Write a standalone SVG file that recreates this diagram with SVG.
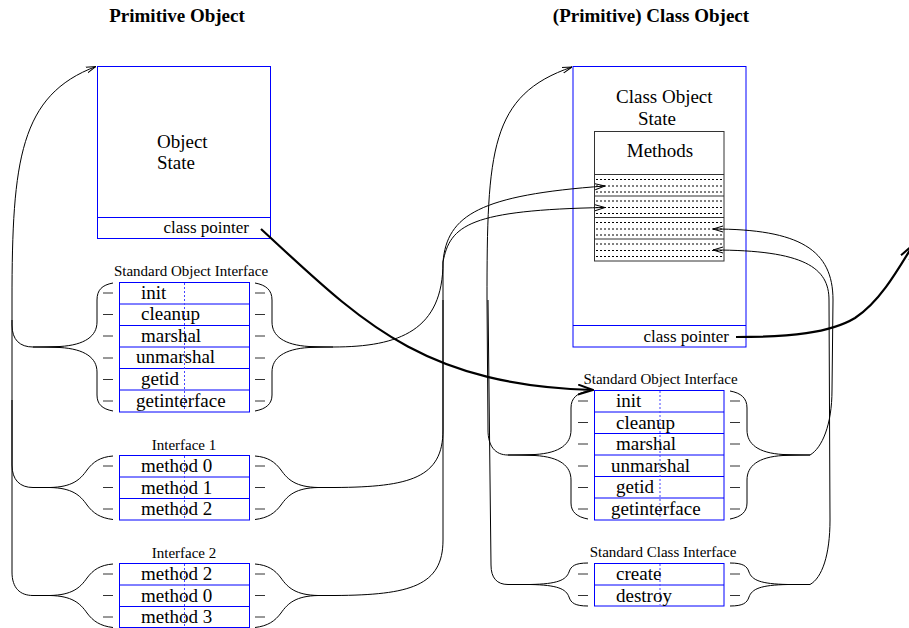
<svg xmlns="http://www.w3.org/2000/svg" width="909" height="628" viewBox="0 0 909 628">
<style>
text{font-family:"Liberation Serif","Times New Roman",serif;fill:#000}
.t{font-size:19px}
.s{font-size:15px}
.c{font-size:17px}
.h{font-size:19px;font-weight:bold;text-anchor:middle}
.m{text-anchor:middle}
.tbl{fill:none;stroke:#0000ff;stroke-width:1}
.vd{stroke:#4444ff;stroke-width:1;stroke-dasharray:2,2}
.ln{fill:none;stroke:#000;stroke-width:1}
.br{fill:none;stroke:#000;stroke-width:1}
.thick{fill:none;stroke:#000;stroke-width:2.2}
.ds{stroke:#333;stroke-width:1}
.dt{stroke:#000;stroke-width:1;stroke-dasharray:2,2}
</style>
<defs>
<marker id="a" viewBox="0 0 10 8" refX="10" refY="4" markerWidth="10" markerHeight="8" markerUnits="userSpaceOnUse" orient="auto"><path d="M0,1 L10,4 L0,7" fill="none" stroke="#000" stroke-width="1"/></marker>
<marker id="A" viewBox="0 0 16 12" refX="15" refY="6" markerWidth="16" markerHeight="12" markerUnits="userSpaceOnUse" orient="auto"><path d="M0,1 L15,6 L0,11" fill="none" stroke="#000" stroke-width="2"/></marker>
</defs>

<text class="h" x="177" y="22">Primitive Object</text>
<text class="h" x="651" y="22">(Primitive) Class Object</text>

<g id="object-state">
<rect class="tbl" x="97.5" y="66.5" width="173" height="172"/>
<line class="tbl" x1="97.5" y1="217.5" x2="270.5" y2="217.5"/>
<text class="t" x="157" y="148">Object</text>
<text class="t" x="157" y="169">State</text>
<text class="c" x="249" y="233" text-anchor="end">class pointer</text>
</g>

<g id="std-object-interface-left">
<text class="s m" x="191" y="276">Standard Object Interface</text>
<rect class="tbl" x="119.5" y="282.5" width="130" height="129.5"/>
<line class="tbl" x1="119.5" y1="304" x2="249.5" y2="304"/>
<line class="tbl" x1="119.5" y1="325.5" x2="249.5" y2="325.5"/>
<line class="tbl" x1="119.5" y1="347" x2="249.5" y2="347"/>
<line class="tbl" x1="119.5" y1="368.5" x2="249.5" y2="368.5"/>
<line class="tbl" x1="119.5" y1="390" x2="249.5" y2="390"/>
<line class="vd" x1="184.5" y1="283" x2="184.5" y2="411"/>
<text class="t" x="141" y="298.5">init</text>
<text class="t" x="141" y="320">cleanup</text>
<text class="t" x="141" y="341.5">marshal</text>
<text class="t" x="136" y="363">unmarshal</text>
<text class="t" x="141" y="384.5">getid</text>
<text class="t" x="136" y="406.5">getinterface</text>
<g class="ds">
<line x1="103" y1="293" x2="113" y2="293"/><line x1="103" y1="314.5" x2="113" y2="314.5"/><line x1="103" y1="336" x2="113" y2="336"/><line x1="103" y1="358" x2="113" y2="358"/><line x1="103" y1="379.5" x2="113" y2="379.5"/><line x1="103" y1="401" x2="113" y2="401"/>
<line x1="255" y1="293" x2="265" y2="293"/><line x1="255" y1="314.5" x2="265" y2="314.5"/><line x1="255" y1="336" x2="265" y2="336"/><line x1="255" y1="358" x2="265" y2="358"/><line x1="255" y1="379.5" x2="265" y2="379.5"/><line x1="255" y1="401" x2="265" y2="401"/>
</g>
<path class="br" d="M113,283 C102,285 97,290 97,300 L97,322 C97,336 85,345 60,346.5 L33,347 M33,347 L60,347.5 C85,349 97,358 97,372 L97,395 C97,404 102,409 113,411"/>
<path class="br" d="M255,283 C266,285 272,290 272,300 L272,322 C272,336 284,345 309,346.5 L333,347 M333,347 L309,347.5 C284,349 272,358 272,372 L272,395 C272,404 266,409 255,411"/>
</g>

<g id="interface-1">
<text class="s m" x="184" y="450">Interface 1</text>
<rect class="tbl" x="119.5" y="455.5" width="130" height="64.5"/>
<line class="tbl" x1="119.5" y1="477" x2="249.5" y2="477"/>
<line class="tbl" x1="119.5" y1="498.5" x2="249.5" y2="498.5"/>
<line class="vd" x1="184.5" y1="456" x2="184.5" y2="519"/>
<text class="t" x="141" y="472">method 0</text>
<text class="t" x="141" y="493.5">method 1</text>
<text class="t" x="141" y="515">method 2</text>
<g class="ds">
<line x1="103" y1="466" x2="113" y2="466"/><line x1="103" y1="487.5" x2="113" y2="487.5"/><line x1="103" y1="509" x2="113" y2="509"/>
<line x1="255" y1="466" x2="265" y2="466"/><line x1="255" y1="487.5" x2="265" y2="487.5"/><line x1="255" y1="509" x2="265" y2="509"/>
</g>
<path class="br" d="M113,456 C100,457 93,462 87,470 C80,480 72,487 50,487.5 L33,487.5 M33,487.5 L50,487.5 C72,488 80,495 87,505 C93,513 100,518 113,519.5"/>
<path class="br" d="M255,456 C268,457 275,462 281,470 C288,480 296,487 318,487.5 L335,487.5 M335,487.5 L318,487.5 C296,488 288,495 281,505 C275,513 268,518 255,519.5"/>
</g>

<g id="interface-2">
<text class="s m" x="184" y="558">Interface 2</text>
<rect class="tbl" x="119.5" y="563.5" width="130" height="64"/>
<line class="tbl" x1="119.5" y1="585" x2="249.5" y2="585"/>
<line class="tbl" x1="119.5" y1="606.5" x2="249.5" y2="606.5"/>
<line class="vd" x1="184.5" y1="564" x2="184.5" y2="627"/>
<text class="t" x="141" y="580">method 2</text>
<text class="t" x="141" y="601.5">method 0</text>
<text class="t" x="141" y="623">method 3</text>
<g class="ds">
<line x1="103" y1="574" x2="113" y2="574"/><line x1="103" y1="595.5" x2="113" y2="595.5"/><line x1="103" y1="617" x2="113" y2="617"/>
<line x1="255" y1="574" x2="265" y2="574"/><line x1="255" y1="595.5" x2="265" y2="595.5"/><line x1="255" y1="617" x2="265" y2="617"/>
</g>
<path class="br" d="M113,564 C100,565 93,570 87,578 C80,588 72,595 50,595.5 L33,595.5 M33,595.5 L50,595.5 C72,596 80,603 87,613 C93,621 100,626 113,627.5"/>
<path class="br" d="M255,564 C268,565 275,570 281,578 C288,588 296,595 318,595.5 L335,595.5 M335,595.5 L318,595.5 C296,596 288,603 281,613 C275,621 268,626 255,627.5"/>
</g>

<g id="class-object">
<rect class="tbl" x="573" y="66.5" width="173" height="280.5"/>
<line class="tbl" x1="573" y1="325.5" x2="746" y2="325.5"/>
<text class="t" x="616" y="103">Class Object</text>
<text class="t" x="638" y="125">State</text>
<text class="c" x="729" y="342" text-anchor="end">class pointer</text>
</g>

<g id="methods">
<rect x="594.5" y="131.5" width="129.5" height="129.5" fill="none" stroke="#333" stroke-width="1"/>
<line x1="594.5" y1="174.5" x2="724" y2="174.5" stroke="#333"/>
<line x1="594.5" y1="196" x2="724" y2="196" stroke="#333"/>
<line x1="594.5" y1="217.5" x2="724" y2="217.5" stroke="#333"/>
<line x1="594.5" y1="239" x2="724" y2="239" stroke="#333"/>
<text class="t m" x="660" y="157">Methods</text>
<g class="dt">
<line x1="596" y1="179.5" x2="723" y2="179.5"/><line x1="596" y1="186" x2="723" y2="186"/><line x1="596" y1="192" x2="723" y2="192"/>
<line x1="596" y1="201" x2="723" y2="201"/><line x1="596" y1="207.5" x2="723" y2="207.5"/><line x1="596" y1="213.5" x2="723" y2="213.5"/>
<line x1="596" y1="222.5" x2="723" y2="222.5"/><line x1="596" y1="229" x2="723" y2="229"/><line x1="596" y1="235" x2="723" y2="235"/>
<line x1="596" y1="244" x2="723" y2="244"/><line x1="596" y1="250.5" x2="723" y2="250.5"/><line x1="596" y1="256.5" x2="723" y2="256.5"/>
</g>
</g>

<g id="std-object-interface-right">
<text class="s m" x="660.5" y="384">Standard Object Interface</text>
<rect class="tbl" x="594.5" y="390.5" width="129.5" height="129.5"/>
<line class="tbl" x1="594.5" y1="412" x2="724" y2="412"/>
<line class="tbl" x1="594.5" y1="433.5" x2="724" y2="433.5"/>
<line class="tbl" x1="594.5" y1="455" x2="724" y2="455"/>
<line class="tbl" x1="594.5" y1="476.5" x2="724" y2="476.5"/>
<line class="tbl" x1="594.5" y1="498" x2="724" y2="498"/>
<line class="vd" x1="660" y1="391" x2="660" y2="519"/>
<text class="t" x="616" y="407">init</text>
<text class="t" x="616" y="428.5">cleanup</text>
<text class="t" x="616" y="450">marshal</text>
<text class="t" x="611" y="471.5">unmarshal</text>
<text class="t" x="616" y="493">getid</text>
<text class="t" x="611" y="514.5">getinterface</text>
<g class="ds">
<line x1="578" y1="401" x2="588" y2="401"/><line x1="578" y1="422.5" x2="588" y2="422.5"/><line x1="578" y1="444" x2="588" y2="444"/><line x1="578" y1="466" x2="588" y2="466"/><line x1="578" y1="487.5" x2="588" y2="487.5"/><line x1="578" y1="509" x2="588" y2="509"/>
<line x1="730" y1="401" x2="740" y2="401"/><line x1="730" y1="422.5" x2="740" y2="422.5"/><line x1="730" y1="444" x2="740" y2="444"/><line x1="730" y1="466" x2="740" y2="466"/><line x1="730" y1="487.5" x2="740" y2="487.5"/><line x1="730" y1="509" x2="740" y2="509"/>
</g>
<path class="br" d="M588,391 C577,393 571,398 571,408 L571,430 C571,444 560,453 535,454.5 L508,455 M508,455 L535,455.5 C560,457 571,466 571,480 L571,503 C571,512 577,517 588,519"/>
<path class="br" d="M730,391 C741,393 747,398 747,408 L747,430 C747,444 758,453 783,454.5 L810,455 M810,455 L783,455.5 C758,457 747,466 747,480 L747,503 C747,512 741,517 730,519"/>
</g>

<g id="std-class-interface">
<text class="s m" x="663" y="557">Standard Class Interface</text>
<rect class="tbl" x="594.5" y="563.5" width="129.5" height="42.5"/>
<line class="tbl" x1="594.5" y1="585" x2="724" y2="585"/>
<line class="vd" x1="660" y1="564" x2="660" y2="605"/>
<text class="t" x="616" y="580">create</text>
<text class="t" x="616" y="601.5">destroy</text>
<g class="ds">
<line x1="578" y1="574" x2="588" y2="574"/><line x1="578" y1="595.5" x2="588" y2="595.5"/>
<line x1="730" y1="574" x2="740" y2="574"/><line x1="730" y1="595.5" x2="740" y2="595.5"/>
</g>
<path class="br" d="M588,563 C575,563 571,566 569,572 C566,580 558,584 530,584.5 L508,584.5 M508,584.5 L530,584.5 C558,585 566,589 569,597 C571,603 575,606 588,606"/>
<path class="br" d="M730,563 C743,563 747,566 749,572 C752,580 760,584 788,584.5 L810,584.5 M810,584.5 L788,584.5 C760,585 752,589 749,597 C747,603 743,606 730,606"/>
</g>

<g id="connectors">
<path class="ln" d="M33,347 C20,347 12,340 12,325 L12,300 C12,160 20,95 96,66.5" marker-end="url(#a)"/>
<path class="ln" d="M33,487.5 C20,487.5 12,480 12,465 L12,320"/>
<path class="ln" d="M33,595.5 C20,595.5 12,588 12,572 L12,400"/>
<path class="ln" d="M333,347 C400,347 443,330 443,262 C447,215 480,195 605,186" marker-end="url(#a)"/>
<path class="ln" d="M335,487.5 C410,487 443,478 443,430 L443,262 C450,225 470,210 605,207.5" marker-end="url(#a)"/>
<path class="ln" d="M335,595.5 C410,595 443,586 443,540 L443,300"/>
<path class="ln" d="M508,455 C495,455 488,446 488,430 L487,300 C487,150 490,95 572,67" marker-end="url(#a)"/>
<path class="ln" d="M508,584.5 C497,584.5 491,578 491,565 L488,300"/>
<path class="ln" d="M810,455 C822,448 832,425 832,390 L833,300 C833,250 800,229 713,229" marker-end="url(#a)"/>
<path class="ln" d="M810,584.5 C822,578 830,555 830,520 L829,300 C829,268 805,250 713,250" marker-end="url(#a)"/>
<path class="thick" d="M261,229 C360,320 420,385 593,390" marker-end="url(#A)"/>
<path class="thick" d="M736,337 C790,337 830,333 855,318 C878,303 895,275 913,245" marker-end="url(#A)"/>
</g>
</svg>
